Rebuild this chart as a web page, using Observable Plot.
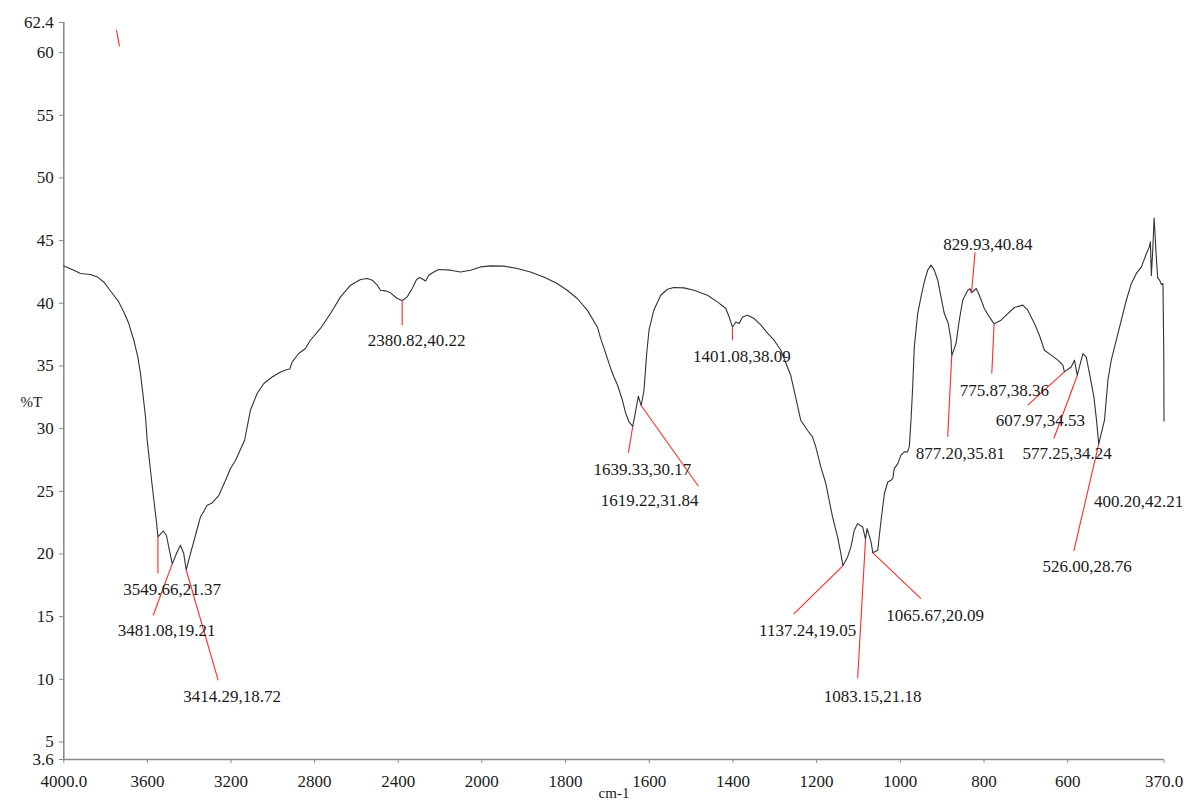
<!DOCTYPE html>
<html>
<head>
<meta charset="utf-8">
<script src="https://cdn.jsdelivr.net/npm/d3@7"></script>
<script src="https://cdn.jsdelivr.net/npm/@observablehq/plot@0.6"></script>
<style>
  html, body { margin: 0; padding: 0; background: #ffffff; }
  #chart svg { display: block; }
</style>
</head>
<body>
<div id="chart"></div>
<script>
// FTIR spectrum: wavenumber (cm-1) and transmittance (%T)
const wavenumber = [
  4000, 3952, 3920, 3872, 3840, 3809, 3785, 3761, 3737, 3713, 3689, 3665, 3646, 3633, 3620, 3609, 3601,
  3580, 3569, 3556, 3549.66, 3524, 3509, 3498, 3481.08, 3461, 3442, 3426, 3414.29, 3394, 3370, 3346,
  3314, 3290, 3258, 3226, 3202, 3178, 3135, 3107, 3075, 3043, 3003, 2963, 2931, 2919, 2907, 2876, 2844,
  2820, 2772, 2724, 2676, 2628, 2580, 2548, 2524, 2500, 2485, 2461, 2437, 2405, 2380.82, 2357, 2333,
  2312, 2297, 2280, 2269, 2254, 2230, 2206, 2150, 2102, 2054, 2006, 1979, 1947, 1915, 1884, 1852, 1820,
  1796, 1772, 1748, 1724, 1716, 1708, 1700, 1692, 1684, 1676, 1664, 1656, 1648, 1639.33, 1632, 1626,
  1619.22, 1612.5, 1606, 1600.5, 1589, 1572.5, 1556.5, 1541, 1517, 1493, 1461, 1437, 1417, 1409,
  1401.08, 1393, 1385, 1377, 1365, 1349, 1333, 1317, 1301.5, 1285.5, 1262, 1250, 1238, 1222, 1210,
  1202, 1190, 1178, 1170, 1162, 1150, 1142, 1137.24, 1126, 1118, 1110, 1102, 1090, 1083.15, 1079.5,
  1070, 1065.67, 1054, 1046, 1038, 1030, 1022, 1018, 1014.5, 1006, 998.5, 990.5, 983, 978.6, 974.5,
  970.5, 966.6, 958.5, 950.6, 942.7, 934.6, 926.7, 918.8, 910.6, 902.8, 894.9, 885.3, 878.9, 877.20,
  866.9, 859.1, 851, 838.9, 833.4, 829.93, 818.6, 811.2, 799.3, 787.3, 775.87, 759.3, 743.2, 727.5,
  707.4, 695.4, 679.6, 667.7, 655.7, 639.7, 623.6, 611.7, 607.97, 591.8, 583.9, 577.25, 563.8, 555.9,
  548, 537.5, 531, 526.00, 512.2, 504, 496, 484, 472, 460, 448, 436, 424, 412, 405, 402.5, 400.20,
  397, 393.5, 389, 385, 380.6, 376, 372.5, 370.5, 370
];
const transmittance = [
  42.98, 42.64, 42.38, 42.30, 42.10, 41.70, 41.18, 40.64, 40.11, 39.31, 38.38, 37.05, 35.72, 34.39, 32.53, 30.93, 29.07,
  25.88, 24.28, 22.45, 21.37, 21.83, 21.49, 20.56, 19.21, 20.03, 20.69, 20.03, 18.72, 20.03, 21.49, 22.95,
  23.88, 24.07, 24.68, 25.88, 26.84, 27.48, 29.07, 31.47, 32.80, 33.60, 34.12, 34.52, 34.71, 34.75, 35.32, 35.99, 36.39,
  37.05, 37.99, 39.18, 40.51, 41.44, 41.90, 41.98, 41.84, 41.44, 41.04, 40.99, 40.83, 40.38, 40.22, 40.51, 41.18,
  41.90, 42.06, 41.90, 41.78, 42.24, 42.50, 42.69, 42.64, 42.50, 42.64, 42.90, 42.98, 42.96, 42.77, 42.50, 42.10, 41.58,
  41.04, 40.38, 39.45, 38.11, 37.20, 36.40, 35.60, 34.80, 34.10, 33.50, 32.26, 31.20, 30.53, 30.17, 31.47, 32.58,
  31.84, 33.06, 35.99, 37.85, 39.45, 40.64, 41.12, 41.26, 41.23, 41.04, 40.64, 40.11, 39.58, 38.91,
  38.09, 38.51, 38.38, 38.91, 39.05, 38.78, 38.25, 37.59, 37.05, 36.25, 34.26, 32.50, 30.67, 29.87, 29.34,
  28.54, 26.94, 25.62, 24.28, 22.95, 21.36, 20.03, 19.05, 19.76, 20.56, 21.89, 22.42, 22.15, 21.18, 22.03,
  20.96, 20.09, 20.29, 22.69, 24.82, 25.74, 25.88, 26.02, 26.81, 27.21, 27.88, 28.14, 28.14, 28.54, 30.67,
  33.33, 36.52, 39.18, 40.51, 41.70, 42.64, 43.04, 42.64, 41.84, 40.51, 39.18, 38.38, 37.05, 35.81,
  36.79, 38.65, 40.24, 41.04, 41.16, 40.84, 41.18, 40.64, 39.58, 38.91, 38.36, 38.65, 39.18, 39.66,
  39.85, 39.45, 38.38, 37.45, 36.25, 35.86, 35.46, 35.06, 34.53, 34.92, 35.46, 34.24, 35.99, 35.72,
  34.39, 32.53, 30.60, 28.76, 30.67, 33.86, 35.46, 37.05, 38.65, 40.24, 41.58, 42.38, 42.90, 43.97, 44.50, 44.90, 42.21,
  44.20, 46.80, 44.00, 42.00, 41.84, 41.50, 41.57, 36.00, 30.60
];

// Picked peaks
const peakWavenumber = [3549.66, 3481.08, 3414.29, 2380.82, 1639.33, 1619.22, 1401.08, 1137.24, 1083.15, 1065.67, 877.20, 829.93, 775.87, 607.97, 577.25, 526.00, 400.20];
const peakTransmittance = [21.37, 19.21, 18.72, 40.22, 30.17, 31.84, 38.09, 19.05, 21.18, 20.09, 35.81, 40.84, 38.36, 34.53, 34.24, 28.76, 42.21];

// Where each peak label sits (data units) and where its leader line ends
const labelWavenumber = [3481.3, 3508.6, 3194.2, 2312.3, 1616.3, 1598.9, 1378.8, 1221.6, 1066.2, 917.1, 856.6, 791.1, 751.4, 665.3, 601.4, 553.6, 430.8];
const labelTransmittance = [17.16, 13.85, 8.64, 37.05, 26.73, 24.28, 35.72, 13.85, 8.64, 15.11, 28.01, 44.71, 33.06, 30.61, 28.01, 18.96, 24.15];
const leaderWavenumber = [3549.66, 3572.2, 3261.2, 2380.82, 1649.8, 1482.4, 1401.08, 1255.1, 1102.0, 950.6, 886.8, 821.5, 781.5, 695.4, 633.2, 585.4, null];
const leaderTransmittance = [18.43, 15.11, 9.92, 38.25, 28.06, 25.40, 37.05, 15.19, 10.06, 16.44, 29.34, 44.07, 34.40, 31.87, 29.21, 20.24, null];

// A lone marker near the top-left corner
const markerWavenumber = [3748, 3733.5];
const markerTransmittance = [61.8, 60.5];

// Axis ticks
const xTicks = [4000, 3600, 3200, 2800, 2400, 2000, 1800, 1600, 1400, 1200, 1000, 800, 600, 370];
const xTickLabels = ["4000.0", "3600", "3200", "2800", "2400", "2000", "1800", "1600", "1400", "1200", "1000", "800", "600", "370.0"];
const yTicks = [3.6, 5, 10, 15, 20, 25, 30, 35, 40, 45, 50, 55, 60, 62.4];
const yTickLabels = ["3.6", "5", "10", "15", "20", "25", "30", "35", "40", "45", "50", "55", "60", "62.4"];

const spectrum = wavenumber.map((w, i) => ({w, t: transmittance[i]}));
const peaks = peakWavenumber.map((w, i) => ({
  w, t: peakTransmittance[i],
  lw: labelWavenumber[i], lt: labelTransmittance[i],
  ew: leaderWavenumber[i], et: leaderTransmittance[i],
  text: `${w.toFixed(2)},${peakTransmittance[i].toFixed(2)}`
}));
const marker = [{w1: markerWavenumber[0], t1: markerTransmittance[0], w2: markerWavenumber[1], t2: markerTransmittance[1]}];

const serif = "'Liberation Serif', 'Times New Roman', serif";
const axisGray = "#8a8a8a";
const ink = "#1a1a1a";
const labelSize = 17;

const chart = Plot.plot({
  width: 1184,
  height: 803,
  marginTop: 22,
  marginBottom: 44,
  marginLeft: 63,
  marginRight: 20,
  style: {
    fontFamily: serif,
    fontSize: `${labelSize}px`,
    color: ink,
    background: "#ffffff",
    overflow: "visible"
  },
  x: {
    type: "linear",
    // the spectrum is expanded two-fold below 2000 cm-1
    domain: [4000, 2000, 370],
    range: [63.3, 481.3, 1163.5],
    axis: null
  },
  y: {
    domain: [3.6, 62.4],
    axis: null
  },
  marks: [
    // axis lines and tick marks
    Plot.ruleX([4000], {y1: 3.6, y2: 62.4, stroke: axisGray, strokeWidth: 1.6}),
    Plot.ruleY([3.6], {x1: 4000, x2: 370, stroke: axisGray, strokeWidth: 1.6}),
    Plot.axisX(xTicks, {anchor: "bottom", tickSize: 4, stroke: axisGray, tickFormat: () => "", label: null}),
    Plot.axisY(yTicks, {anchor: "left", tickSize: 4, stroke: axisGray, tickFormat: () => "", label: null}),

    // tick labels
    Plot.text(xTicks, {
      x: d => d, y: () => 3.6, dy: 22,
      text: (d, i) => xTickLabels[i],
      fontFamily: serif, fontSize: labelSize, fill: ink
    }),
    Plot.text(yTicks, {
      x: () => 4000, y: d => d, dx: -10, textAnchor: "end",
      text: (d, i) => yTickLabels[i],
      fontFamily: serif, fontSize: labelSize, fill: ink
    }),

    // axis titles
    Plot.text(["%T"], {frameAnchor: "left", dx: -43, dy: 11, fontSize: 15, fontFamily: serif, fill: ink}),
    Plot.text(["cm-1"], {frameAnchor: "bottom", dy: 38, fontSize: 15, fontFamily: serif, fill: ink}),

    // spectrum trace
    Plot.line(spectrum, {x: "w", y: "t", stroke: "#333333", strokeWidth: 1.1, curve: "linear"}),

    // peak leaders and labels
    Plot.link(peaks.filter(d => d.ew != null), {x1: "w", y1: "t", x2: "ew", y2: "et", stroke: "#ff2a2a", strokeWidth: 1.1}),
    Plot.link(marker, {x1: "w1", y1: "t1", x2: "w2", y2: "t2", stroke: "#ff2a2a", strokeWidth: 1.1}),
    Plot.text(peaks, {x: "lw", y: "lt", text: "text", fill: ink, fontSize: labelSize, fontFamily: serif})
  ]
});

document.getElementById("chart").appendChild(chart);
</script>
</body>
</html>
